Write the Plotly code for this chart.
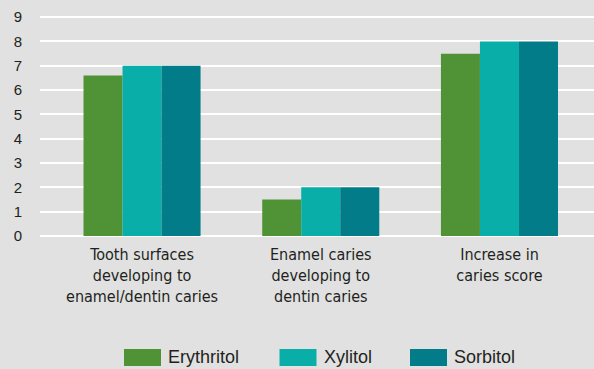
import plotly.graph_objects as go

# Category labels (multi-line) and series values
categories = [
    "Tooth surfaces<br>developing to<br>enamel/dentin caries",
    "Enamel caries<br>developing to<br>dentin caries",
    "Increase in<br>caries score",
]
series_names = ["Erythritol", "Xylitol", "Sorbitol"]
erythritol = [6.6, 1.5, 7.5]
xylitol = [7.0, 2.0, 8.0]
sorbitol = [7.0, 2.0, 8.0]
y_ticks = [0, 1, 2, 3, 4, 5, 6, 7, 8, 9]

colors = ["#509236", "#09aea9", "#027c89"]
BG = "#e0e1e0"
TEXT = "#231f20"

W, H = 594, 369
M_L, M_R, M_T, M_B = 40, 0, 5, 133

fig = go.Figure()
for name, vals, col in zip(series_names, [erythritol, xylitol, sorbitol], colors):
    fig.add_trace(go.Bar(
        name=name, x=categories, y=vals, marker=dict(color=col, line=dict(width=0)),
        showlegend=False,
    ))


def px_to_paper_x(px):
    return (px - M_L) / (W - M_L - M_R)


def px_to_paper_y(py):
    return (H - M_B - py) / (H - M_T - M_B)


# Custom legend with wide swatches along the bottom edge
swatch_left = [124, 279.5, 410]
shapes, annotations = [], []
for name, col, left in zip(series_names, colors, swatch_left):
    shapes.append(dict(
        type="rect", xref="paper", yref="paper",
        x0=px_to_paper_x(left), x1=px_to_paper_x(left + 37),
        y0=px_to_paper_y(349), y1=px_to_paper_y(366),
        fillcolor=col, line=dict(width=0),
    ))
    annotations.append(dict(
        xref="paper", yref="paper", x=px_to_paper_x(left + 42), y=px_to_paper_y(357),
        text=name, showarrow=False, xanchor="left", yanchor="middle",
        font=dict(family="Liberation Sans, Arial, sans-serif", size=18, color=TEXT),
    ))

fig.update_layout(
    width=W, height=H,
    margin=dict(l=M_L, r=M_R, t=M_T, b=M_B),
    paper_bgcolor=BG, plot_bgcolor=BG,
    barmode="group", bargap=0.345, bargroupgap=0,
    shapes=shapes, annotations=annotations,
    xaxis=dict(
        range=[-0.571, 2.529], showgrid=False, zeroline=False, showline=False,
        ticks="", tickfont=dict(family="DejaVu Sans Condensed, Arial Narrow, sans-serif",
                               size=16, color=TEXT),
        ticklabelstandoff=7,
    ),
    yaxis=dict(
        range=[0, 9.5], tickvals=y_ticks, ticktext=[str(v) for v in y_ticks],
        showgrid=True, gridcolor="#ffffff", gridwidth=1.5,
        zeroline=True, zerolinecolor="#ffffff", zerolinewidth=1.5,
        showline=False, ticks="",
        tickfont=dict(family="Liberation Sans, Arial, sans-serif", size=15, color=TEXT),
        ticklabelstandoff=17,
    ),
)

fig.write_html("out.html")
